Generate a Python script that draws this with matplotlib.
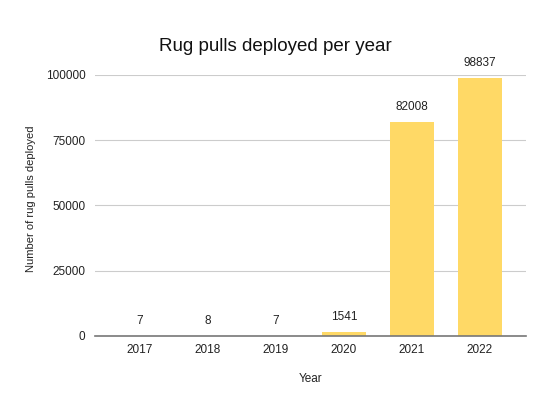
import matplotlib.pyplot as plt

# data
years = ['2017', '2018', '2019', '2020', '2021', '2022']
rug_pulls = [7, 8, 7, 1541, 82008, 98837]
y_ticks = [0, 25000, 50000, 75000, 100000]

plt.rcParams['font.family'] = ['Liberation Sans', 'DejaVu Sans']

fig = plt.figure(figsize=(5.59, 3.98), dpi=100)
ax = fig.add_axes([0.17, 0.156, 0.771, 0.656])

x = range(len(years))
ax.bar(x, rug_pulls, width=0.65, color='#FFD966', zorder=2)
for i, v in enumerate(rug_pulls):
    ax.text(i, v + 3500, str(v), ha='center', va='bottom', fontsize=8.5,
            color='#222222', clip_on=False)

ax.set_xlim(-0.66, 5.68)
ax.set_ylim(0, 100000)
ax.set_xticks(list(x))
ax.set_xticklabels(years, fontsize=8.5, color='#222222')
ax.set_yticks(y_ticks)
ax.set_yticklabels([str(t) for t in y_ticks], fontsize=8.5, color='#222222')
ax.tick_params(length=0, pad=6)
ax.tick_params(axis='y', pad=7)

ax.grid(axis='y', color='#cccccc', linewidth=0.8, zorder=0)
for s in ['top', 'right', 'left']:
    ax.spines[s].set_visible(False)
ax.spines['bottom'].set_color('#777777')
ax.spines['bottom'].set_linewidth(1.2)
ax.spines['bottom'].set_zorder(3)

fig.text(0.492, 0.882, 'Rug pulls deployed per year', ha='center', va='center', fontsize=13.5, color='#111111')
ax.set_xlabel('Year', fontsize=8.5, color='#222222', labelpad=12)
fig.text(0.055, 0.5, 'Number of rug pulls deployed', rotation=90, ha='center', va='center', fontsize=8, color='#222222')

fig.savefig('out.png', dpi=100)
